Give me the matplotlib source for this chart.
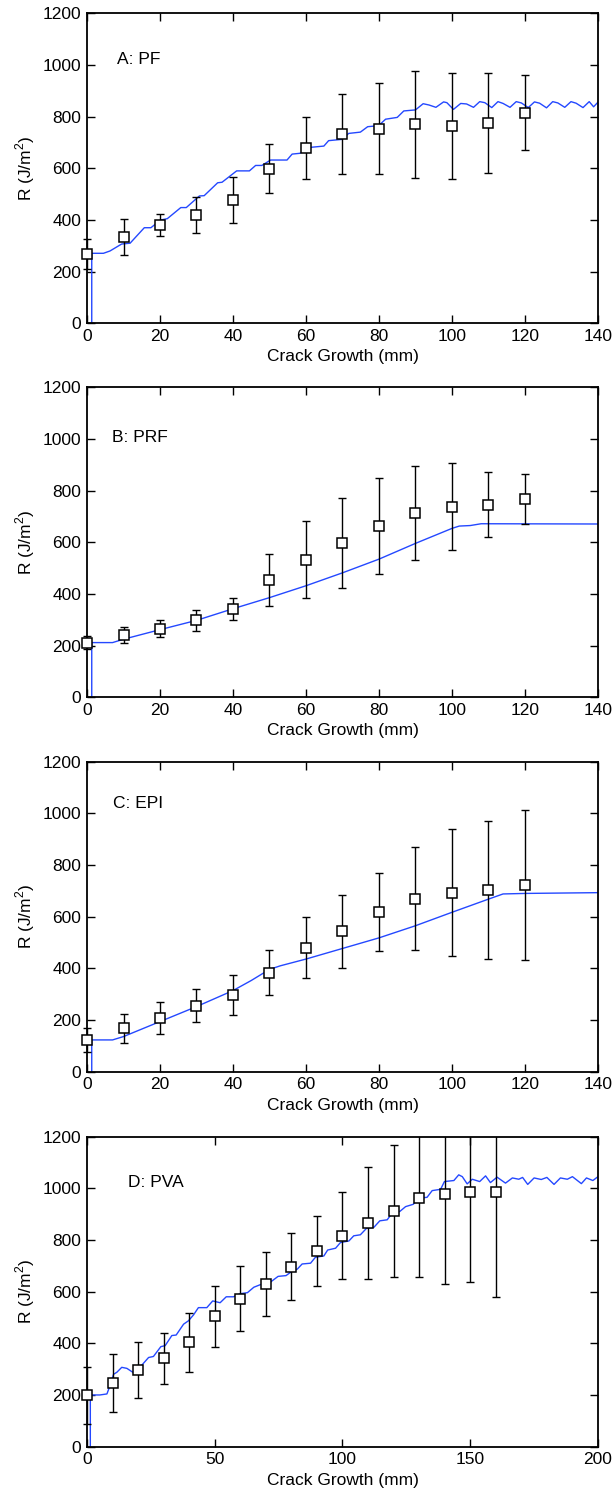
import matplotlib
matplotlib.use("Agg")
import matplotlib.pyplot as plt
from matplotlib.patches import Rectangle

plt.rcParams["font.family"] = ["Liberation Sans", "DejaVu Sans"]
plt.rcParams["mathtext.fontset"] = "custom"
plt.rcParams["mathtext.rm"] = "Liberation Sans"

# --- measured R-curves (mean +/- sd) ---
pf_x = [0, 10, 20, 30, 40, 50, 60, 70, 80, 90, 100, 110, 120]
pf_r = [269, 334, 381, 420, 477, 599, 679, 731, 754, 771, 763, 775, 815]
pf_err = [58, 68, 43, 70, 88, 94, 120, 155, 175, 207, 204, 193, 145]

prf_x = [0, 10, 20, 30, 40, 50, 60, 70, 80, 90, 100, 110, 120]
prf_r = [212, 240, 266, 299, 343, 455, 533, 597, 664, 713, 738, 746, 768]
prf_err = [24, 31, 32, 41, 43, 101, 148, 174, 185, 183, 169, 127, 97]

epi_x = [0, 10, 20, 30, 40, 50, 60, 70, 80, 90, 100, 110, 120]
epi_r = [123, 168, 207, 256, 297, 383, 480, 543, 617, 670, 693, 703, 723]
epi_err = [47, 55, 61, 63, 76, 87, 119, 142, 151, 199, 245, 266, 290]

pva_x = [0, 10, 20, 30, 40, 50, 60, 70, 80, 90, 100, 110, 120, 130, 140, 150, 160]
pva_r = [198, 247, 297, 342, 404, 504, 573, 628, 697, 757, 817, 867, 912, 961, 979, 984, 987]
pva_err = [110, 112, 108, 98, 115, 118, 127, 124, 131, 135, 168, 217, 256, 303, 351, 348, 409]

# --- model predictions ---
pf_model_x = [1.3, 1.3, 4.5, 6.3, 9.5, 11.8, 15.7, 17.5, 20.2, 22.0, 25.7, 27.2,
              30.8, 32.1, 35.8, 37.0, 41.0, 44.5, 46.2, 47.9, 50.3, 54.8, 56.2,
              58.3, 61.2, 64.9, 66.2, 69.9, 71.7, 74.9, 76.9, 79.9, 81.8, 85.0,
              86.8, 90.0, 92.1, 93.7, 95.6, 97.7, 98.6, 100.4, 102.4, 104.0,
              105.9, 107.6, 109.0, 110.9, 112.6, 114.0, 115.9, 117.6, 119.0,
              120.9, 122.6, 124.0, 125.9, 127.6, 129.0, 130.9, 132.6, 134.0,
              135.9, 137.6, 138.8, 140.0]
pf_model_r = [0, 271, 271, 280, 307, 310, 370, 370, 400, 405, 448, 448,
              493, 494, 544, 546, 590, 590, 611, 611, 632, 632, 655,
              658, 681, 686, 707, 712, 735, 740, 761, 765, 790, 797,
              822, 826, 850, 845, 836, 857, 854, 828, 851, 849,
              836, 858, 854, 835, 858, 851, 836, 858, 853,
              835, 857, 852, 834, 858, 853, 836, 858, 852,
              835, 858, 838, 856]

prf_model_x = [1.3, 1.3, 7.0, 10, 20, 30, 40, 50, 60, 70, 80, 90, 100, 102, 105, 108, 140]
prf_model_r = [0, 212, 212, 225, 262, 298, 343, 386, 432, 482, 535, 596, 654, 663, 665, 672, 671]

epi_model_x = [1.3, 1.3, 7.0, 10, 20, 30, 40, 45, 50, 53, 60, 70, 80, 90, 100, 110, 114, 120, 140]
epi_model_r = [0, 123, 123, 136, 194, 252, 314, 353, 396, 410, 436, 477, 518, 565, 617, 668, 688, 690, 693]

pva_model_x = [1.3, 1.3, 5.0, 7.8, 9.1, 10.4, 11.7, 13.6, 15.6, 17.9, 20.1, 21.5,
               24.1, 26.0, 28.9, 30.6, 33.2, 34.9, 37.8, 39.7, 41.7, 43.6, 46.9,
               49.2, 52.1, 54.5, 57.3, 60.0, 62.8, 65.3, 69.4, 71.7, 74.8, 77.9,
               80.8, 82.3, 84.2, 87.5, 89.4, 92.7, 94.2, 97.3, 99.2, 102.5, 104.4,
               107.0, 109.4, 112.3, 114.6, 117.5, 119.4, 122.4, 124.7, 127.7, 129.9,
               133.1, 135.1, 138.4, 139.9, 143.6, 145.5, 146.9, 148.8, 150.8, 153.7,
               156.0, 157.9, 160.5, 163.8, 166.5, 169.0, 170.5, 172.5, 175.0, 177.8,
               180.0, 182.8, 185.3, 188.0, 190.0, 193.5, 195.5, 198.0, 200.0]
pva_model_r = [0, 200, 200, 204, 239, 280, 288, 307, 303, 288, 293, 316,
               345, 349, 387, 391, 430, 432, 474, 487, 510, 538, 538,
               564, 557, 580, 580, 592, 596, 617, 633, 636, 659, 662,
               683, 687, 707, 710, 733, 738, 761, 768, 790, 796, 816,
               820, 845, 849, 874, 878, 903, 910, 929, 938, 962,
               965, 991, 996, 1026, 1030, 1052, 1045, 1017, 1035, 1026,
               1048, 1022, 1043, 1020, 1040, 1035, 1042, 1015, 1040, 1034,
               1042, 1015, 1040, 1035, 1045, 1018, 1040, 1030, 1045]

panels = [
    ("A: PF", pf_x, pf_r, pf_err, pf_model_x, pf_model_r, 140, [0, 20, 40, 60, 80, 100, 120, 140], (0.059, 0.851)),
    ("B: PRF", prf_x, prf_r, prf_err, prf_model_x, prf_model_r, 140, [0, 20, 40, 60, 80, 100, 120, 140], (0.049, 0.839)),
    ("C: EPI", epi_x, epi_r, epi_err, epi_model_x, epi_model_r, 140, [0, 20, 40, 60, 80, 100, 120, 140], (0.051, 0.865)),
    ("D: PVA", pva_x, pva_r, pva_err, pva_model_x, pva_model_r, 200, [0, 50, 100, 150, 200], (0.080, 0.853)),
]

bottoms = [0.7833, 0.5326, 0.2817, 0.0304]
blue = "#2448ff"
fs = 12.5

fig = plt.figure(figsize=(6.14, 14.92), dpi=100)

for (label, x, r, err, mx, mr, xmax, xticks, txt), b in zip(panels, bottoms):
    ax = fig.add_axes([0.1417, b, 0.8322, 0.2078])
    ax.plot(mx, mr, color=blue, lw=1.0, zorder=2)

    eb = ax.errorbar(x, r, yerr=err, fmt="none", ecolor="black", elinewidth=1.0,
                     capsize=3.2, capthick=1.0, zorder=3)
    # let the x=0 point spill over the left spine but keep the top clipped
    clip = Rectangle((-0.06, -0.06), 1.12, 1.06, transform=ax.transAxes)
    for art in eb.lines[1] + eb.lines[2]:
        art.set_clip_path(clip)
    ax.plot(x, r, "s", ms=7, mfc="white", mec="black", mew=1.1,
            clip_on=False, zorder=4)

    ax.set_xlim(0, xmax)
    ax.set_ylim(0, 1200)
    ax.set_xticks(xticks)
    ax.set_yticks([0, 200, 400, 600, 800, 1000, 1200])
    ax.tick_params(direction="in", top=True, right=True, length=6, width=1.0,
                   labelsize=fs, pad=4)
    for s in ax.spines.values():
        s.set_linewidth(1.3)
    ax.set_xlabel("Crack Growth (mm)", fontsize=fs, labelpad=4)
    ax.set_ylabel("R (J/m$^2$)", fontsize=fs, labelpad=4)
    ax.text(txt[0], txt[1], label, transform=ax.transAxes, fontsize=fs,
            ha="left", va="center")

fig.savefig("out.png", dpi=100)
